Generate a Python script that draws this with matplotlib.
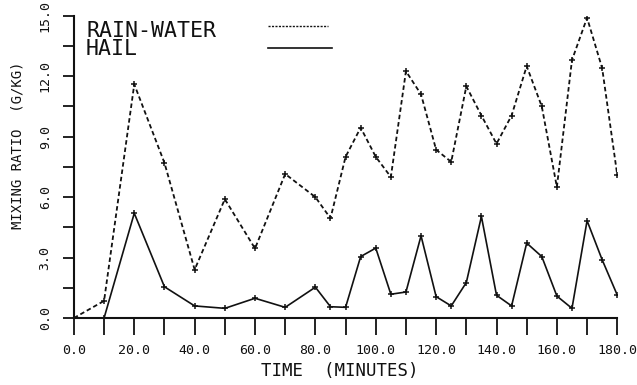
import numpy as np
import matplotlib
matplotlib.use("Agg")
import matplotlib.pyplot as plt

plt.rcParams['font.family'] = ['DejaVu Sans Mono']

# time (minutes) and mixing ratio (g/kg)
time = [0, 10, 20, 30, 40, 50, 60, 70, 80, 85, 90, 95, 100, 105, 110, 115,
        120, 125, 130, 135, 140, 145, 150, 155, 160, 165, 170, 175, 180]
rain_water = [0.0, 0.85, 11.6, 7.7, 2.4, 5.9, 3.45, 7.15, 6.0, 4.95, 8.0, 9.45,
              8.0, 7.0, 12.25, 11.1, 8.35, 7.75, 11.5, 10.05, 8.65, 10.05, 12.5,
              10.5, 6.5, 12.8, 14.9, 12.4, 7.1]
hail = [0.0, 0.0, 5.2, 1.55, 0.6, 0.48, 0.98, 0.53, 1.53, 0.56, 0.53, 3.05, 3.47,
        1.18, 1.29, 4.08, 1.06, 0.6, 1.76, 5.04, 1.13, 0.6, 3.72, 3.05, 1.09,
        0.48, 4.83, 2.89, 1.14]
series_names = ['RAIN-WATER', 'HAIL']

x_ticks = np.arange(0, 181, 10)
x_labels = ['%.1f' % v if v % 20 == 0 else '' for v in x_ticks]
y_ticks = np.arange(0, 15.01, 1.5)
y_labels = ['%.1f' % v if abs(v / 3 - round(v / 3)) < 1e-6 else '' for v in y_ticks]

W, H = 637, 385
fig = plt.figure(figsize=(W / 100, H / 100), dpi=100)
ax = fig.add_axes([0.116, 0.174, 0.853, 0.785])

ink = '#111111'
ax.plot(time, rain_water, color=ink, lw=1.3, ls=(0, (2.5, 1.6)),
        marker='+', ms=4, mew=1.1)
ax.plot(time, hail, color=ink, lw=1.2, marker='+', ms=4, mew=1.1)

ax.set_xlim(0, 180)
ax.set_ylim(0, 15)
ax.set_xticks(x_ticks)
ax.set_xticklabels(x_labels)
ax.set_yticks(y_ticks)
ax.set_yticklabels(y_labels)

for s in ['top', 'right']:
    ax.spines[s].set_visible(False)
for s in ['left', 'bottom']:
    ax.spines[s].set_linewidth(1.5)
    ax.spines[s].set_color(ink)

ax.tick_params(axis='x', length=12, width=1.3, pad=7, labelsize=9.5, colors=ink)
ax.tick_params(axis='y', length=8, width=1.3, pad=8, labelsize=9.5,
               labelrotation=90, colors=ink)
for lab in ax.get_yticklabels():
    lab.set_va('center')

ax.set_xlabel('TIME  (MINUTES)', fontsize=12.5, color=ink)
ax.xaxis.set_label_coords(0.49, -0.145)
ax.xaxis.label.set_va('top')
ax.set_ylabel('MIXING RATIO  (G/KG)', fontsize=10, color=ink)
ax.yaxis.set_label_coords(-0.09, 0.573)

# legend as in the plotter output: names on the left, line samples on the right
fig.text(86 / W, 1 - 55 / H, '\n'.join(series_names), fontsize=15.5, color=ink,
         va='baseline', linespacing=0.88)
fig.add_artist(plt.Line2D([268 / W, 328 / W], [1 - 26 / H, 1 - 26 / H],
                          color=ink, lw=1.0, ls=(0, (1.5, 1.0))))
fig.add_artist(plt.Line2D([268 / W, 332 / W], [1 - 48 / H, 1 - 48 / H],
                          color=ink, lw=1.2))

fig.savefig('out.png', dpi=100)
